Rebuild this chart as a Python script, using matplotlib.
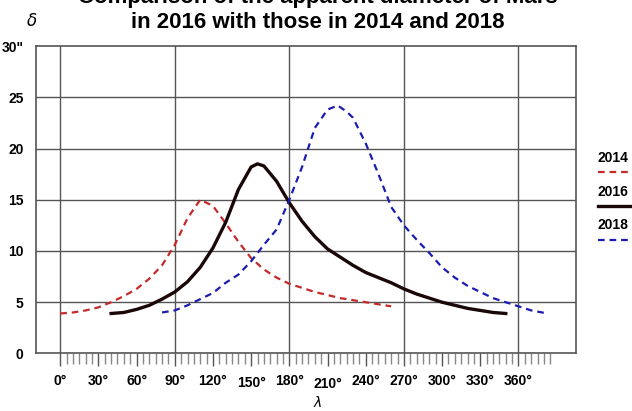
import matplotlib
matplotlib.use("Agg")
import matplotlib.pyplot as plt
from matplotlib.lines import Line2D
import numpy as np

plt.rcParams['font.family'] = ['Liberation Sans', 'DejaVu Sans']

# apparent diameter of Mars (arcsec) vs heliocentric longitude (deg)
lam_2014 = [0, 10, 20, 30, 40, 50, 60, 70, 80, 90, 100, 110, 120, 130, 140,
            150, 160, 170, 180, 190, 200, 210, 220, 230, 240, 250, 260]
d_2014 = [3.9, 4.0, 4.2, 4.5, 5.0, 5.6, 6.3, 7.3, 8.6, 10.6, 13.2, 15.0, 14.4, 12.7, 10.9,
          9.3, 8.2, 7.4, 6.8, 6.4, 6.0, 5.7, 5.4, 5.2, 5.0, 4.8, 4.6]

lam_2016 = [40, 50, 60, 70, 80, 90, 100, 110, 120, 130, 140, 150, 155, 160, 170,
            180, 190, 200, 210, 220, 230, 240, 250, 260, 270, 280, 290, 300, 310,
            320, 330, 340, 350]
d_2016 = [3.9, 4.0, 4.3, 4.7, 5.3, 6.0, 7.0, 8.4, 10.3, 12.8, 16.0, 18.2, 18.5, 18.3, 16.8,
          14.7, 12.9, 11.4, 10.2, 9.4, 8.6, 7.9, 7.4, 6.9, 6.3, 5.8, 5.4, 5.0, 4.7,
          4.4, 4.2, 4.0, 3.9]

lam_2018 = [80, 90, 100, 110, 120, 130, 140, 150, 160, 170, 180, 190, 200, 210, 218,
            225, 230, 240, 250, 260, 270, 280, 290, 300, 310, 320, 330, 340, 350,
            360, 370, 383]
d_2018 = [4.0, 4.2, 4.7, 5.3, 5.9, 6.9, 7.7, 9.0, 10.6, 12.1, 15.0, 18.2, 22.0, 23.8, 24.2,
          23.6, 23.0, 20.5, 17.5, 14.3, 12.5, 11.1, 9.8, 8.4, 7.4, 6.6, 6.0, 5.4, 5.0,
          4.6, 4.2, 3.9]

x_major = list(range(0, 361, 30))
x_labels = [f'{v}°' for v in x_major]
y_major = [0, 5, 10, 15, 20, 25, 30]
y_labels = ['0', '5', '10', '15', '20', '25', '30"']

red = '#c42a2a'
blue = '#1c1cb0'
black = '#1a0808'
dash = (0, (3, 2.2))

fig = plt.figure(figsize=(6.32, 4.11), dpi=100)
ax = fig.add_axes([0.057, 0.140, 0.854, 0.748])

ax.plot(lam_2014, d_2014, color=red, lw=1.6, ls=dash)
ax.plot(lam_2016, d_2016, color=black, lw=2.4)
ax.plot(lam_2018, d_2018, color=blue, lw=1.6, ls=dash)

ax.set_xlim(-19, 405)
ax.set_ylim(0, 30)

for v in [0, 90, 180, 270, 360]:
    ax.axvline(v, color='#555555', lw=1, zorder=0)
for v in [5, 10, 15, 20, 25]:
    ax.axhline(v, color='#555555', lw=1, zorder=0)

ax.set_xticks(x_major)
ax.set_xticklabels(x_labels, fontsize=10, fontweight='bold')
ax.set_xticks(range(0, 386, 5), minor=True)
ax.tick_params(axis='x', which='major', length=9, width=1, color='#555555', pad=6)
ax.tick_params(axis='x', which='minor', length=8, width=1, color='#888888')
ax.set_yticks(y_major)
ax.set_yticklabels(y_labels, fontsize=10, fontweight='bold')
ax.tick_params(axis='y', length=0, pad=9)
for lbl in ax.get_xticklabels():
    if lbl.get_text() == '150°':
        lbl.set_y(-0.004)
    if lbl.get_text() == '210°':
        lbl.set_y(-0.009)

for s in ax.spines.values():
    s.set_color('#555555')
    s.set_linewidth(1.2)

fig.text(0.503, 0.993, 'Comparison of the apparent diameter of Mars',
         ha='center', va='baseline', fontsize=16, fontweight='bold')
fig.text(0.503, 0.932, 'in 2016 with those in 2014 and 2018',
         ha='center', va='baseline', fontsize=16, fontweight='bold')
fig.text(0.051, 0.95, 'δ', ha='center', va='center', fontsize=12, style='italic',
         family=['DejaVu Sans'])
fig.text(0.503, 0.02, 'λ', ha='center', va='center', fontsize=10, style='italic',
         family=['DejaVu Sans'])

# legend on the right
leg = [('2014', red, dash, 1.6), ('2016', black, '-', 2.4), ('2018', blue, dash, 1.6)]
for i, (name, c, ls, lw) in enumerate(leg):
    ty = 1 - (158 + 33.5 * i) / 411
    fig.text(0.946, ty, name, ha='left', va='center', fontsize=10, fontweight='bold')
    ly = 1 - (172 + 34 * i) / 411
    fig.add_artist(Line2D([0.946, 1.0], [ly, ly], color=c, ls=ls, lw=lw,
                          transform=fig.transFigure))

fig.savefig('out.png', dpi=100)
